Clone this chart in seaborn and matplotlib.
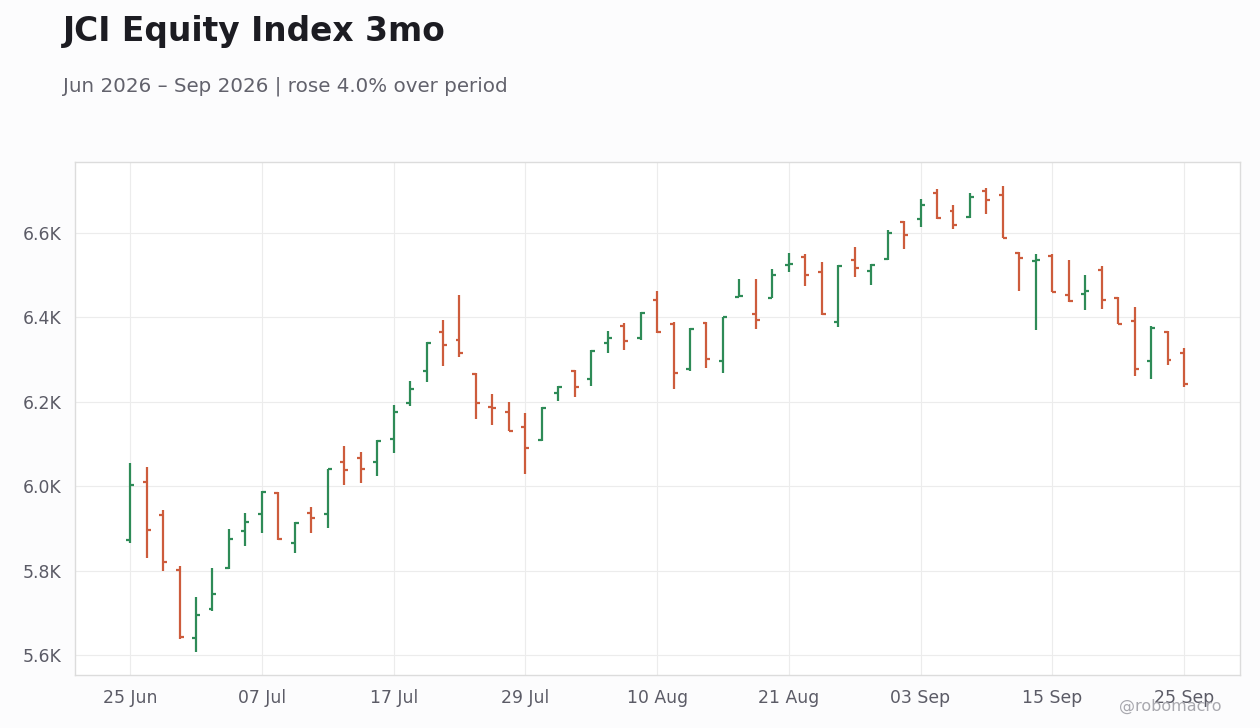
import numpy as np
import pandas as pd
import matplotlib
matplotlib.use("Agg")
import matplotlib.pyplot as plt
import seaborn as sns
from matplotlib.ticker import FixedLocator, FuncFormatter, MultipleLocator

# trading days shown on the chart (two sessions missing in late August)
missing_days = ["2026-08-14", "2026-08-31"]
dates = pd.bdate_range("2026-06-25", "2026-09-25")
dates = dates[~dates.isin(pd.to_datetime(missing_days))]

opens = [5873, 6011, 5932, 5802, 5640, 5710, 5806, 5895, 5934, 5985,
         5866, 5937, 5934, 6058, 6068, 6058, 6113, 6198, 6274, 6366,
         6347, 6267, 6187, 6177, 6141, 6110, 6220, 6273, 6255, 6340,
         6380, 6351, 6442, 6385, 6278, 6387, 6297, 6449, 6408, 6447,
         6524, 6544, 6508, 6390, 6537, 6510, 6539, 6627, 6634, 6695,
         6652, 6638, 6700, 6689, 6553, 6533, 6546, 6454, 6456, 6513,
         6447, 6392, 6297, 6366, 6316]
highs = [6054, 6045, 5943, 5810, 5737, 5806, 5899, 5936, 5988, 5987,
         5915, 5950, 6041, 6095, 6080, 6109, 6192, 6249, 6341, 6393,
         6453, 6269, 6218, 6200, 6173, 6188, 6238, 6275, 6322, 6367,
         6386, 6413, 6462, 6388, 6374, 6389, 6402, 6491, 6491, 6515,
         6553, 6550, 6531, 6524, 6567, 6527, 6606, 6629, 6680, 6704,
         6666, 6694, 6706, 6712, 6555, 6549, 6549, 6536, 6500, 6521,
         6449, 6424, 6379, 6367, 6327]
lows = [5865, 5831, 5800, 5639, 5608, 5705, 5805, 5859, 5890, 5872,
        5841, 5889, 5900, 6004, 6008, 6025, 6079, 6191, 6248, 6286,
        6307, 6160, 6146, 6130, 6030, 6108, 6203, 6211, 6238, 6316,
        6323, 6347, 6364, 6231, 6273, 6281, 6269, 6448, 6373, 6445,
        6508, 6475, 6405, 6377, 6496, 6477, 6537, 6561, 6615, 6634,
        6610, 6636, 6644, 6587, 6463, 6371, 6459, 6436, 6418, 6420,
        6384, 6260, 6255, 6288, 6234]
closes = [6002, 5897, 5820, 5643, 5695, 5745, 5876, 5916, 5987, 5874,
          5913, 5925, 6040, 6038, 6041, 6108, 6177, 6231, 6340, 6335,
          6316, 6198, 6185, 6132, 6090, 6186, 6236, 6236, 6321, 6352,
          6344, 6411, 6366, 6268, 6372, 6302, 6401, 6450, 6394, 6501,
          6526, 6501, 6407, 6522, 6517, 6525, 6601, 6595, 6667, 6636,
          6619, 6686, 6678, 6589, 6540, 6535, 6461, 6438, 6463, 6441,
          6385, 6278, 6376, 6300, 6242]

df = pd.DataFrame({"date": dates, "open": opens, "high": highs,
                   "low": lows, "close": closes})
df["x"] = np.arange(len(df))
df["up"] = df["close"] >= df["open"]

UP = "#2e8b57"
DOWN = "#cd5c3c"

sns.set_theme(style="whitegrid")
plt.rcParams["font.family"] = ["DejaVu Sans"]

fig = plt.figure(figsize=(12.6, 7.28), dpi=100, facecolor="#fcfcfd")
ax = fig.add_axes([75 / 1260, 1 - 675 / 728, 1165 / 1260, 513 / 728])
ax.set_facecolor("white")

colors = np.where(df["up"], UP, DOWN)
tick = 0.24
ax.vlines(df["x"], df["low"], df["high"], colors=colors, linewidth=1.6)
ax.hlines(df["open"], df["x"] - tick, df["x"], colors=colors, linewidth=1.6)
ax.hlines(df["close"], df["x"], df["x"] + tick, colors=colors, linewidth=1.6)

ax.set_xlim(-3.35, 67.4)
ax.set_ylim(5553, 6768)

pos = list(range(0, len(df), 8))
ax.xaxis.set_major_locator(FixedLocator(pos))
ax.set_xticklabels([df["date"].iloc[i].strftime("%d %b") for i in pos])
ax.yaxis.set_major_locator(MultipleLocator(200))
ax.yaxis.set_major_formatter(FuncFormatter(lambda v, p: f"{v / 1000:.1f}K"))

ax.grid(True, color="#ececec", linewidth=0.8)
for s in ax.spines.values():
    s.set_color("#dcdcdc")
    s.set_linewidth(1.0)
ax.tick_params(axis="both", length=4, width=0.8, color="#666670",
               labelcolor="#5b5b66", labelsize=12.4, pad=6)
ax.set_xlabel("")
ax.set_ylabel("")

fig.text(63 / 1260, 1 - 41 / 728, "JCI Equity Index 3mo", fontsize=23.7,
         fontweight="bold", color="#1c1c22", va="baseline")
fig.text(63 / 1260, 1 - 92 / 728,
         "Jun 2026 \u2013 Sep 2026 | rose 4.0% over period",
         fontsize=14.3, color="#62626c", va="baseline")
fig.text(1221 / 1260, 1 - 711 / 728, "@robomacro", fontsize=11.5,
         color="#a8a8ae", ha="right", va="baseline")

fig.savefig("out.png", dpi=100, facecolor=fig.get_facecolor())
